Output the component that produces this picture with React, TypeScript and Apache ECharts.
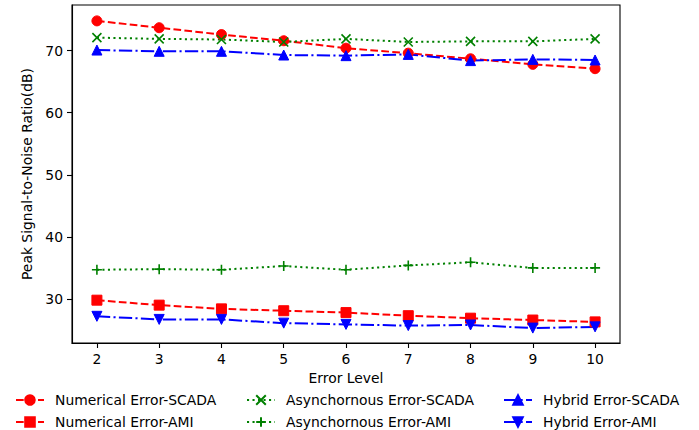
import React, { useEffect, useRef } from "react";
import * as echarts from "echarts";

const xLevels = [2, 3, 4, 5, 6, 7, 8, 9, 10];
const yTicks = [30, 40, 50, 60, 70];
const numericalScada = [74.8, 73.7, 72.6, 71.6, 70.4, 69.6, 68.7, 67.8, 67.1];
const numericalAmi = [29.8, 29.0, 28.4, 28.1, 27.8, 27.3, 26.9, 26.6, 26.3];
const asyncScada = [72.1, 71.9, 71.8, 71.4, 71.9, 71.4, 71.5, 71.5, 71.9];
const asyncAmi = [34.7, 34.8, 34.7, 35.3, 34.7, 35.4, 35.9, 35.0, 35.0];
const hybridScada = [70.1, 69.9, 69.9, 69.3, 69.2, 69.4, 68.4, 68.6, 68.5];
const hybridAmi = [27.2, 26.7, 26.7, 26.1, 25.9, 25.7, 25.8, 25.3, 25.5];

const FONT = "DejaVu Sans";
const FS = 13.9;

const RED = "#ff0000";
const GREEN = "#008000";
const BLUE = "#0000ff";

const DASHED = [7.7, 3.3];
const DOTTED = [2.1, 3.4];
const DASHDOT = [13.3, 3.3, 2.1, 3.3];

const X_SYMBOL = "path://M0,0L10,10M10,0L0,10";
const PLUS_SYMBOL = "path://M5,0L5,10M0,5L10,5";
const DOWN_TRI = "path://M0,0L10,0L5,10Z";

function pairs(vals: number[]) {
  return vals.map((v, i) => [xLevels[i], v]);
}

function mkSeries(
  name: string,
  vals: number[],
  color: string,
  dash: number[],
  symbol: string,
  size: number,
  stroke: boolean
) {
  return {
    name,
    type: "line",
    data: pairs(vals),
    symbol,
    symbolSize: size,
    showAllSymbol: true,
    lineStyle: { color, width: 2, type: dash, cap: "butt" },
    itemStyle: {
      color,
      borderColor: color,
      borderWidth: stroke ? 1.6 : 1,
      opacity: 1,
    },
    emphasis: { disabled: true },
    silent: true,
  };
}

function mkLegend(names: string[], left: number) {
  return {
    data: names,
    orient: "vertical",
    left,
    top: 393,
    padding: 0,
    itemWidth: 28,
    itemHeight: 12,
    itemGap: 8,
    selectedMode: false,
    textStyle: {
      fontFamily: FONT,
      fontSize: FS,
      color: "#000",
      padding: [0, 0, 0, 6],
    },
  };
}

export default function App() {
  const ref = useRef<HTMLDivElement>(null);

  useEffect(() => {
    if (!ref.current) return;
    const chart = echarts.init(ref.current, undefined, { renderer: "svg" });
    chart.setOption({
      animation: false,
      backgroundColor: "#ffffff",
      textStyle: { fontFamily: FONT },
      grid: {
        left: 72,
        right: 79,
        top: 5,
        bottom: 87,
        show: true,
        borderColor: "#000",
        borderWidth: 1.1,
        backgroundColor: "#fff",
      },
      xAxis: {
        type: "value",
        min: 1.6,
        max: 10.4,
        name: "Error Level",
        nameLocation: "middle",
        nameGap: 27,
        nameTextStyle: { fontFamily: FONT, fontSize: FS, color: "#000" },
        axisLine: { show: true, lineStyle: { color: "#000", width: 1.1 } },
        axisTick: {
          show: true,
          length: 5,
          inside: false,
          customValues: xLevels,
          lineStyle: { color: "#000", width: 1.1 },
        },
        axisLabel: {
          show: true,
          customValues: xLevels,
          margin: 9,
          fontFamily: FONT,
          fontSize: FS,
          color: "#000",
        },
        splitLine: { show: false },
      },
      yAxis: {
        type: "value",
        min: 22.9,
        max: 77.36,
        name: "Peak Signal-to-Noise Ratio(dB)",
        nameLocation: "middle",
        nameGap: 30,
        nameTextStyle: { fontFamily: FONT, fontSize: FS, color: "#000" },
        axisLine: { show: true, lineStyle: { color: "#000", width: 1.1 } },
        axisTick: {
          show: true,
          length: 5,
          inside: false,
          customValues: yTicks,
          lineStyle: { color: "#000", width: 1.1 },
        },
        axisLabel: {
          show: true,
          customValues: yTicks,
          margin: 9,
          fontFamily: FONT,
          fontSize: FS,
          color: "#000",
        },
        splitLine: { show: false },
      },
      legend: [
        mkLegend(["Numerical Error-SCADA", "Numerical Error-AMI"], 15),
        mkLegend(["Asynchornous Error-SCADA", "Asynchornous Error-AMI"], 246),
        mkLegend(["Hybrid Error-SCADA", "Hybrid Error-AMI"], 503),
      ],
      series: [
        mkSeries("Numerical Error-SCADA", numericalScada, RED, DASHED, "circle", 10, false),
        mkSeries("Numerical Error-AMI", numericalAmi, RED, DASHED, "rect", 10, false),
        mkSeries("Asynchornous Error-SCADA", asyncScada, GREEN, DOTTED, X_SYMBOL, 9, true),
        mkSeries("Asynchornous Error-AMI", asyncAmi, GREEN, DOTTED, PLUS_SYMBOL, 10, true),
        mkSeries("Hybrid Error-SCADA", hybridScada, BLUE, DASHDOT, "triangle", 10, false),
        mkSeries("Hybrid Error-AMI", hybridAmi, BLUE, DASHDOT, DOWN_TRI, 10, false),
      ],
    });
    return () => chart.dispose();
  }, []);

  return (
    <div
      ref={ref}
      style={{ position: "fixed", left: 0, top: 0, width: 699, height: 430, background: "#fff" }}
    />
  );
}
